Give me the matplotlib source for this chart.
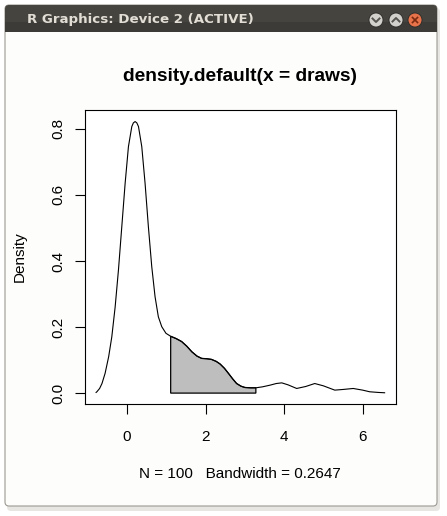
import matplotlib
matplotlib.use("Agg")
import matplotlib.pyplot as plt
from matplotlib.patches import FancyBboxPatch, Rectangle, Circle, Polygon

# density curve
dens_x = [-0.79, -0.77, -0.70, -0.64, -0.56, -0.47, -0.39, -0.305, -0.22, -0.135,
          -0.05, 0.034, 0.12, 0.16, 0.204, 0.248, 0.29, 0.374, 0.458, 0.542,
          0.628, 0.712, 0.796, 0.883, 0.99, 1.11, 1.25, 1.39, 1.52, 1.65, 1.78,
          1.90, 2.03, 2.15, 2.27, 2.37, 2.48, 2.58, 2.69, 2.79, 2.90, 3.00, 3.15,
          3.28, 3.45, 3.64, 3.80, 3.94, 4.10, 4.32, 4.55, 4.78, 5.00, 5.29, 5.50,
          5.76, 6.00, 6.18, 6.40, 6.56]
dens_y = [0.002, 0.004, 0.014, 0.029, 0.06, 0.11, 0.17, 0.26, 0.373, 0.504,
          0.635, 0.746, 0.807, 0.818, 0.822, 0.818, 0.807, 0.746, 0.635, 0.504,
          0.383, 0.292, 0.231, 0.201, 0.181, 0.172, 0.165, 0.156, 0.142, 0.125,
          0.112, 0.105, 0.104, 0.102, 0.096, 0.088, 0.075, 0.06, 0.043, 0.029,
          0.021, 0.017, 0.016, 0.016, 0.019, 0.024, 0.029, 0.031, 0.025, 0.014,
          0.02, 0.029, 0.022, 0.009, 0.011, 0.014, 0.009, 0.004, 0.002, 0.001]
shade_from = 1.11
shade_to = 3.28
x_ticks = [0, 2, 4, 6]
y_ticks = [0.0, 0.2, 0.4, 0.6, 0.8]

W, H = 447, 516
fig = plt.figure(figsize=(W / 100, H / 100), dpi=100)
fig.patch.set_facecolor("white")

# window frame drawn in pixel coordinates
bg = fig.add_axes([0, 0, 1, 1])
bg.set_xlim(0, W)
bg.set_ylim(H, 0)
bg.axis("off")
bg.add_patch(FancyBboxPatch((7, 8), 433, 503, boxstyle="round,pad=0,rounding_size=4",
                            fc="#d8d6d0", ec="none", alpha=0.6))
bg.add_patch(FancyBboxPatch((5, 5), 432, 501, boxstyle="round,pad=0,rounding_size=4",
                            fc="#fdfdfb", ec="#9c9a92", lw=0.8))
bg.add_patch(FancyBboxPatch((5, 5), 432, 27, boxstyle="round,pad=0,rounding_size=4",
                            fc="#45443f", ec="none"))
bg.add_patch(Rectangle((5, 22), 432, 10, fc="#3c3b37", ec="none"))
bg.text(27, 19, "R Graphics: Device 2 (ACTIVE)", color="#e2ded6", fontsize=9.6,
        fontweight="bold", family="DejaVu Sans", va="center", ha="left")
for cx, col in [(376, "#d3d1cb"), (396, "#d3d1cb"), (415, "#e8734a")]:
    bg.add_patch(Circle((cx, 20), 7, fc=col, ec="#2a2a28", lw=0.6))
bg.plot([372.5, 376, 379.5], [18.5, 22, 18.5], color="#55544f", lw=1.4)
bg.plot([392.5, 396, 399.5], [21.5, 18, 21.5], color="#55544f", lw=1.4)
bg.plot([412.5, 417.5], [17.5, 22.5], color="#7a2a10", lw=1.2)
bg.plot([412.5, 417.5], [22.5, 17.5], color="#7a2a10", lw=1.2)

# plot region
l, r, t, b = 84.7, 396, 110, 404
ax = fig.add_axes([l / W, 1 - b / H, (r - l) / W, (b - t) / H])
ax.set_facecolor("white")
ax.plot(dens_x, dens_y, color="black", lw=0.8)

sx = [x for x in dens_x if shade_from <= x <= shade_to]
sy = [y for x, y in zip(dens_x, dens_y) if shade_from <= x <= shade_to]
poly = [(shade_from, 0)] + list(zip(sx, sy)) + [(shade_to, 0)]
ax.add_patch(Polygon(poly, closed=True, fc="#bebebe", ec="black", lw=0.9))

ax.set_xlim(-1.08, 6.85)
ax.set_ylim(-0.033, 0.857)
for s in ax.spines.values():
    s.set_linewidth(0.8)
ax.set_xticks(x_ticks)
ax.set_yticks(y_ticks)
ax.set_xticklabels([str(v) for v in x_ticks], family="Liberation Sans", fontsize=11)
ax.set_yticklabels(["%.1f" % v for v in y_ticks], family="Liberation Sans",
                   fontsize=11, rotation=90, va="center")
ax.tick_params(length=7, width=0.8)
ax.tick_params(axis="x", pad=12)
ax.tick_params(axis="y", pad=7)
ax.set_ylabel("Density", family="Liberation Sans", fontsize=11, labelpad=18)
ax.set_xlabel("N = 100   Bandwidth = 0.2647", family="Liberation Sans",
              fontsize=11, labelpad=16)
ax.set_title("density.default(x = draws)", family="Liberation Sans",
             fontweight="bold", fontsize=13.8, pad=21)

fig.savefig("out.png", dpi=100)
